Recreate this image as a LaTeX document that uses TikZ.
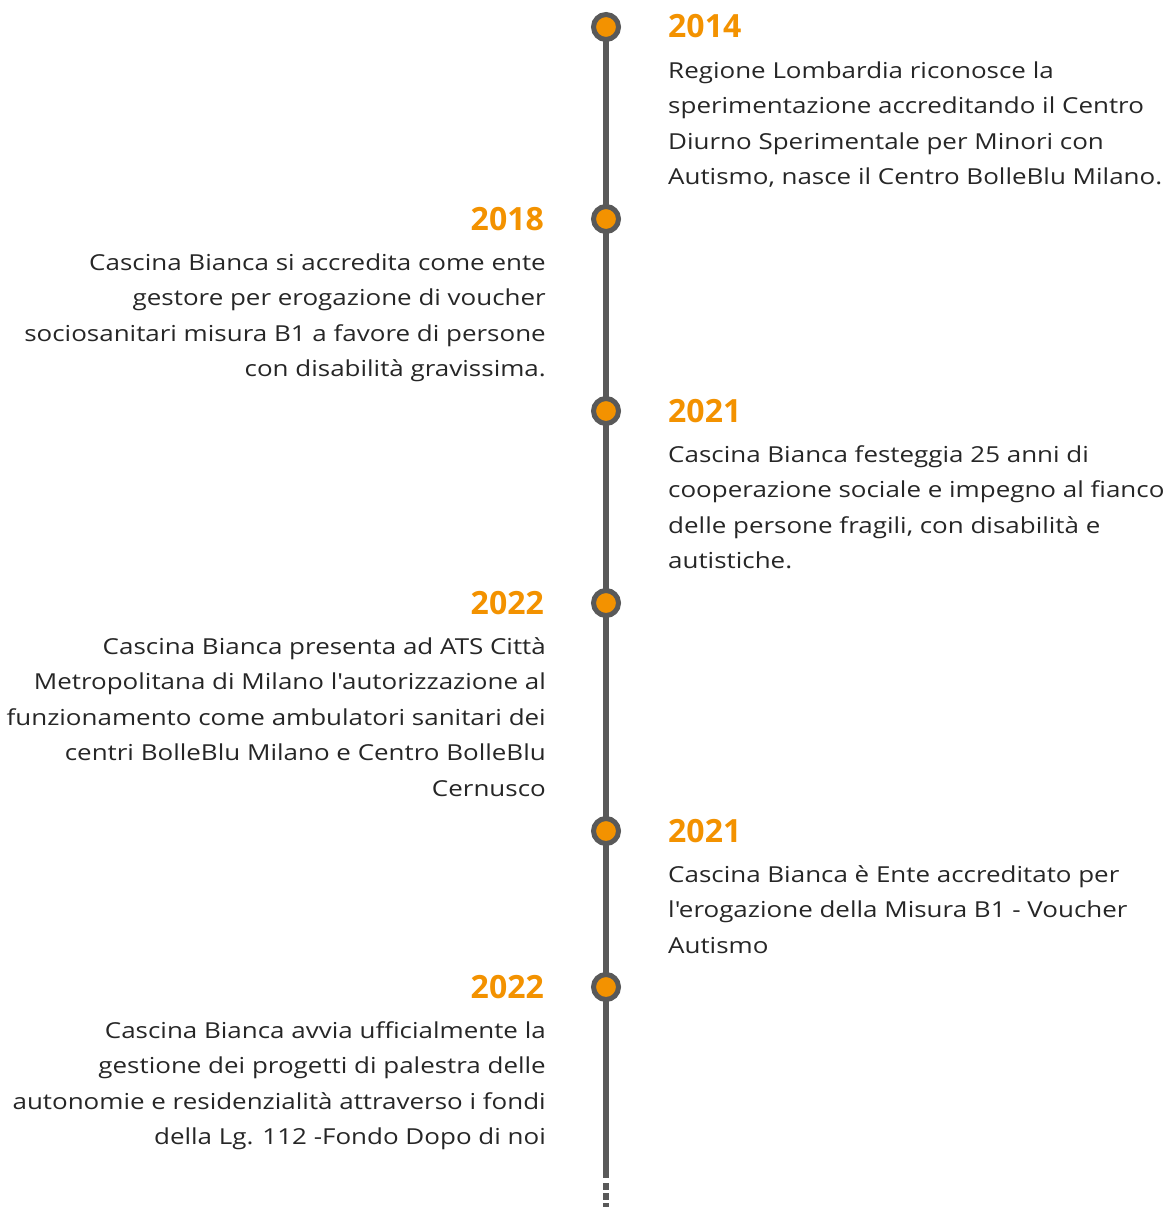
\documentclass[tikz,border=0pt]{standalone}
\usepackage{fontspec}
\setmainfont{Open Sans}[Ligatures=TeXOff]
\newfontfamily\bodyfont{Open Sans}[Ligatures=TeXOff, FakeStretch=1.18]
\definecolor{tlgray}{HTML}{595959}
\definecolor{tlorange}{HTML}{F39200}
\definecolor{tltext}{HTML}{262626}
\tikzset{
  body/.style={inner sep=0pt, text=tltext, font=\bodyfont\fontsize{22}{26}\selectfont},
  year/.style={inner sep=0pt, text=tlorange, font=\fontsize{32}{36}\selectfont\bfseries},
  dot/.style={circle, draw=tlgray, line width=5pt, fill=tlorange, minimum size=25pt, inner sep=0pt},
  spine/.style={draw=tlgray, line width=5.5pt}
}
\begin{document}
\begin{tikzpicture}[x=1pt,y=-1pt]
\useasboundingbox (0,0) rectangle (1171,1207);
\coordinate (top) at (606,27);
\coordinate (solidend) at (606,1178);
\coordinate (dashstart) at (606,1183);
\coordinate (bot) at (606,1210);
\draw[spine] (top) -- (solidend);
\draw[spine, dash pattern=on 7pt off 3pt] (dashstart) -- (bot);
\node[dot] (d1) at (606,27) {};
\node[dot] (d2) at (606,219) {};
\node[dot] (d3) at (606,411) {};
\node[dot] (d4) at (606,603) {};
\node[dot] (d5) at (606,831) {};
\node[dot] (d6) at (606,987) {};
% right side
\node[year, anchor=base west] (y1) at (668,38) {2014};
\foreach \t [count=\i] in {{Regione Lombardia riconosce la},{sperimentazione accreditando il Centro},{Diurno Sperimentale per Minori con},{Autismo, nasce il Centro BolleBlu Milano.}}
  \node[body, anchor=base west] (a\i) at (668,{78+35.5*(\i-1)}) {\t};
\node[year, anchor=base east] (y2) at (544,230) {2018};
\foreach \t [count=\i] in {{Cascina Bianca si accredita come ente},{gestore per erogazione di voucher},{sociosanitari misura B1 a favore di persone},{con disabilità gravissima.}}
  \node[body, anchor=base east] (b\i) at (546,{270+35.5*(\i-1)}) {\t};
\node[year, anchor=base west] (y3) at (668,422) {2021};
\foreach \t [count=\i] in {{Cascina Bianca festeggia 25 anni di},{cooperazione sociale e impegno al fianco},{delle persone fragili, con disabilità e},{autistiche.}}
  \node[body, anchor=base west] (c\i) at (668,{462+35.5*(\i-1)}) {\t};
\node[year, anchor=base east] (y4) at (544,614) {2022};
\foreach \t [count=\i] in {{Cascina Bianca presenta ad ATS Città},{Metropolitana di Milano l'autorizzazione al},{funzionamento come ambulatori sanitari dei},{centri BolleBlu Milano e Centro BolleBlu},{Cernusco}}
  \node[body, anchor=base east] (e\i) at (546,{654+35.5*(\i-1)}) {\t};
\node[year, anchor=base west] (y5) at (668,842) {2021};
\foreach \t [count=\i] in {{Cascina Bianca è Ente accreditato per},{l'erogazione della Misura B1 - Voucher},{Autismo}}
  \node[body, anchor=base west] (f\i) at (668,{882+35.5*(\i-1)}) {\t};
\node[year, anchor=base east] (y6) at (544,998) {2022};
\foreach \t [count=\i] in {{Cascina Bianca avvia ufficialmente la},{gestione dei progetti di palestra delle},{autonomie e residenzialità attraverso i fondi},{della Lg. 112 -Fondo Dopo di noi}}
  \node[body, anchor=base east] (g\i) at (546,{1038+35.5*(\i-1)}) {\t};
\end{tikzpicture}
\end{document}
